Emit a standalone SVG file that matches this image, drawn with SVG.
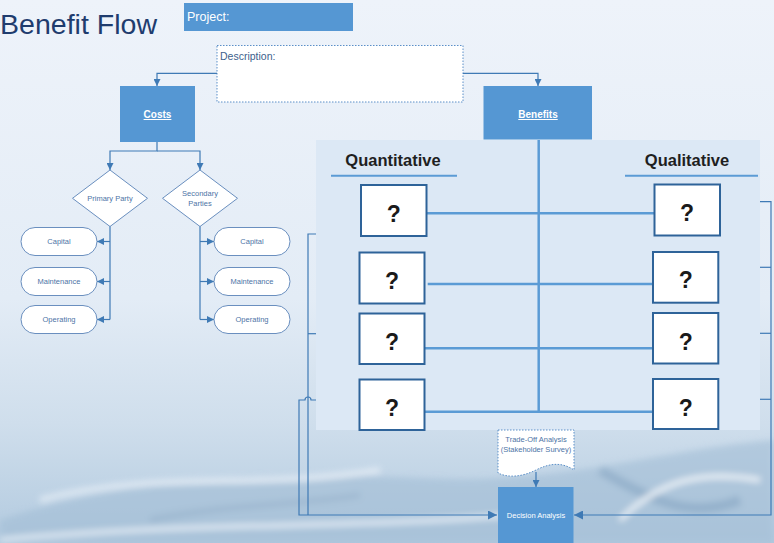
<svg xmlns="http://www.w3.org/2000/svg" width="774" height="543" viewBox="0 0 774 543">
<defs>
<linearGradient id="bg" x1="0" y1="0" x2="0" y2="1">
<stop offset="0" stop-color="#eef3fa"/>
<stop offset="0.55" stop-color="#e3ecf6"/>
<stop offset="0.78" stop-color="#cfdeec"/>
<stop offset="1" stop-color="#b2cadf"/>
</linearGradient>
<filter id="blur" x="-20%" y="-50%" width="140%" height="200%"><feGaussianBlur stdDeviation="3"/></filter>
<marker id="ah" viewBox="0 0 10 10" refX="10" refY="5" markerWidth="7" markerHeight="7" markerUnits="userSpaceOnUse" orient="auto">
<path d="M0,0 L10,5 L0,10 Z" fill="#3f7ab5"/>
</marker>
<marker id="ahb" viewBox="0 0 10 10" refX="10" refY="5" markerWidth="9" markerHeight="9" markerUnits="userSpaceOnUse" orient="auto">
<path d="M0,0 L10,5 L0,10 Z" fill="#3f7ab5"/>
</marker>
<style>
.blue{fill:#5597d3;}
.wt{fill:#ffffff;font-family:"Liberation Sans",Arial,sans-serif;}
.conn{fill:none;stroke:#3f7ab5;stroke-width:1.2;}
.thick{fill:none;stroke:#5b9bd5;stroke-width:2.5;}
.pill{fill:#ffffff;stroke:#6a8fbf;stroke-width:1;}
.dia{fill:#ffffff;stroke:#6a8fbf;stroke-width:1;}
.st{font-family:"Liberation Sans",Arial,sans-serif;font-size:7.5px;fill:#4d74a6;text-anchor:middle;}
.qb{fill:#ffffff;stroke:#2e6399;stroke-width:2;}
.q{font-family:"Liberation Sans",Arial,sans-serif;font-weight:bold;font-size:23px;fill:#1a1a1a;text-anchor:middle;}
.hd{font-family:"Liberation Sans",Arial,sans-serif;font-weight:bold;font-size:16.5px;fill:#1f1f1f;text-anchor:middle;}
.dot{fill:#ffffff;stroke:#5b8fc8;stroke-width:1;stroke-dasharray:1.5 1.5;}
</style>
</defs>
<rect x="0" y="0" width="774" height="543" fill="url(#bg)"/>
<g opacity="0.6" filter="url(#blur)">
<path d="M0,520 C120,480 260,470 420,478 C560,486 660,450 774,440 L774,543 L0,543 Z" fill="#a3bed6"/>
<path d="M40,500 C150,470 260,490 380,470" stroke="#f2f6fb" stroke-width="6" fill="none"/>
<path d="M600,470 C650,500 690,520 740,500" stroke="#7d9fbe" stroke-width="10" fill="none"/>
<path d="M0,540 C200,520 400,530 560,510" stroke="#f4f8fc" stroke-width="5" fill="none"/>
<path d="M620,520 C660,480 700,470 760,480" stroke="#ffffff" stroke-width="5" fill="none"/>
<path d="M150,520 C220,505 300,505 360,495" stroke="#8eabc6" stroke-width="6" fill="none"/>
</g>

<text x="0" y="34" font-family="'Liberation Sans',Arial,sans-serif" font-size="27" fill="#1f3c6e" textLength="157" lengthAdjust="spacingAndGlyphs">Benefit Flow</text>

<g id="project">
<rect x="184" y="3" width="169" height="28" class="blue"/>
<text x="187" y="21" class="wt" font-size="12.5">Project:</text>
</g>

<g id="description">
<rect x="217" y="45.5" width="246" height="56.5" class="dot"/>
<text x="220" y="60" font-family="'Liberation Sans',Arial,sans-serif" font-size="10.5" fill="#3d5f8c">Description:</text>
</g>

<g id="panel">
<rect x="316" y="140" width="444" height="290" fill="#dce8f5"/>
</g>

<g id="connectors">
<path class="conn" d="M217,73.3 H157 V86" marker-end="url(#ah)"/>
<path class="conn" d="M463,73.3 H538 V86" marker-end="url(#ah)"/>
<path class="conn" d="M157,142 V151 H110 V170" marker-end="url(#ah)"/>
<path class="conn" d="M157,151 H200 V170" marker-end="url(#ah)"/>
<path class="conn" d="M110,226 V319.5"/>
<path class="conn" d="M110,241.5 H97" marker-end="url(#ah)"/>
<path class="conn" d="M110,281.5 H97" marker-end="url(#ah)"/>
<path class="conn" d="M110,319.5 H97" marker-end="url(#ah)"/>
<path class="conn" d="M200,226 V319.5"/>
<path class="conn" d="M200,241.5 H214" marker-end="url(#ah)"/>
<path class="conn" d="M200,281.5 H214" marker-end="url(#ah)"/>
<path class="conn" d="M200,319.5 H214" marker-end="url(#ah)"/>
<path class="conn" d="M316,234 H308 V515"/>
<path class="conn" d="M316,333.7 H308"/>
<path class="conn" d="M316,400 H311 A3,3 0 0 0 305,400 H299 V515 H497" marker-end="url(#ahb)"/>
<path class="conn" d="M760,201.7 H771 V515 H574" marker-end="url(#ahb)"/>
<path class="conn" d="M760,267.3 H771"/>
<path class="conn" d="M760,333.3 H771"/>
<path class="conn" d="M760,399.3 H771"/>
<path class="conn" d="M536,472 V487" marker-end="url(#ah)"/>
<path class="thick" d="M538.7,140 V411.7"/>
<path class="thick" d="M426.7,213.3 H654.3"/>
<path class="thick" d="M427.7,284 H653"/>
<path class="thick" d="M424.7,348.3 H653"/>
<path class="thick" d="M424.7,411.7 H653"/>
</g>

<g id="costs">
<rect x="120" y="86" width="75" height="56" class="blue"/>
<text x="157.5" y="118" class="wt" font-size="10" font-weight="bold" text-anchor="middle" text-decoration="underline">Costs</text>
</g>

<g id="benefits">
<rect x="483.5" y="86" width="108.5" height="53.5" class="blue"/>
<text x="538" y="118" class="wt" font-size="10" font-weight="bold" text-anchor="middle" text-decoration="underline">Benefits</text>
</g>

<g id="primary-party">
<path class="dia" d="M110,170 L147.5,198.3 L110,226.5 L72.5,198.3 Z"/>
<text x="110" y="201" class="st">Primary Party</text>
</g>
<g id="secondary-parties">
<path class="dia" d="M200,170 L237.5,198.3 L200,226.5 L162.5,198.3 Z"/>
<text x="200" y="196" class="st">Secondary</text>
<text x="200" y="206" class="st">Parties</text>
</g>

<g id="p-capital"><rect x="21" y="227.5" width="76" height="28" rx="14" class="pill"/><text x="59" y="244" class="st">Capital</text></g>
<g id="p-maintenance"><rect x="21" y="267.5" width="76" height="28" rx="14" class="pill"/><text x="59" y="284" class="st">Maintenance</text></g>
<g id="p-operating"><rect x="21" y="305.5" width="76" height="28" rx="14" class="pill"/><text x="59" y="322" class="st">Operating</text></g>
<g id="s-capital"><rect x="214" y="227.5" width="76" height="28" rx="14" class="pill"/><text x="252" y="244" class="st">Capital</text></g>
<g id="s-maintenance"><rect x="214" y="267.5" width="76" height="28" rx="14" class="pill"/><text x="252" y="284" class="st">Maintenance</text></g>
<g id="s-operating"><rect x="214" y="305.5" width="76" height="28" rx="14" class="pill"/><text x="252" y="322" class="st">Operating</text></g>

<g id="quantitative">
<text x="393" y="166" class="hd">Quantitative</text>
<line x1="331" y1="175.7" x2="457" y2="175.7" stroke="#5b9bd5" stroke-width="2"/>
</g>
<g id="qualitative">
<text x="687" y="166" class="hd">Qualitative</text>
<line x1="625" y1="175.7" x2="758" y2="175.7" stroke="#5b9bd5" stroke-width="2"/>
</g>

<g id="qn1"><rect x="361" y="185" width="65.5" height="51" class="qb"/><text x="393.7" y="222" class="q">?</text></g>
<g id="qn2"><rect x="359.5" y="252.5" width="65" height="51" class="qb"/><text x="392" y="289" class="q">?</text></g>
<g id="qn3"><rect x="359.5" y="313.5" width="65" height="50.5" class="qb"/><text x="392" y="350" class="q">?</text></g>
<g id="qn4"><rect x="359.5" y="379.5" width="65" height="50.5" class="qb"/><text x="392" y="416" class="q">?</text></g>
<g id="ql1"><rect x="654.5" y="184.5" width="65.5" height="51" class="qb"/><text x="687" y="221" class="q">?</text></g>
<g id="ql2"><rect x="653" y="252" width="65.3" height="50.7" class="qb"/><text x="685.7" y="288" class="q">?</text></g>
<g id="ql3"><rect x="653" y="313" width="65.3" height="50.5" class="qb"/><text x="685.7" y="350" class="q">?</text></g>
<g id="ql4"><rect x="653" y="379" width="65.3" height="50" class="qb"/><text x="685.7" y="416" class="q">?</text></g>

<g id="trade-off">
<path class="dot" d="M498,430 H574 V470 C562,462 550,463 536,470 C522,477 508,478 498,473 Z"/>
<text x="536" y="442" class="st" fill="#4a7ab0">Trade-Off Analysis</text>
<text x="536" y="452" class="st" fill="#4a7ab0">(Stakeholder Survey)</text>
</g>

<g id="decision">
<rect x="498" y="487" width="75.5" height="60" class="blue"/>
<text x="536" y="518" class="wt" font-size="7.5" text-anchor="middle">Decision Analysis</text>
</g>
</svg>
